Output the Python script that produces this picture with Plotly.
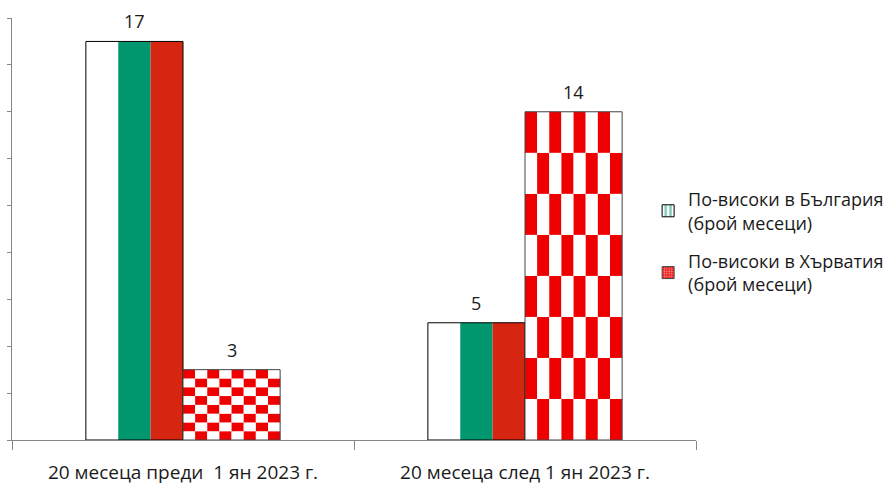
import plotly.graph_objects as go

categories = ["20 месеца преди\u00a0 1 ян 2023 г.", "20 месеца след 1 ян 2023 г."]
bulgaria_higher = [17, 5]
croatia_higher = [3, 14]
series_names = ["По-високи в България<br>(брой месеци)", "По-високи в Хърватия<br>(брой месеци)"]

FLAG = ["#FFFFFF", "#00966E", "#D62612"]
CHECK_RED = "#EE0000"
FONT = "Open Sans"
FS = 18
W = 0.284          # width of one series bar in category units
N = 8              # checkerboard cells per side

fig = go.Figure()

# Bulgarian bars: three vertical stripes
for s, col in enumerate(FLAG):
    fig.add_trace(go.Bar(
        x=categories, y=bulgaria_higher, width=W / 3, offset=-W + s * W / 3,
        marker=dict(color=col, line=dict(width=0)), showlegend=False, hoverinfo="skip"))
fig.add_trace(go.Bar(
    x=categories, y=bulgaria_higher, width=W, offset=-W,
    marker=dict(color="rgba(0,0,0,0)", line=dict(color="#000000", width=1)),
    showlegend=False, name=series_names[0]))

# Croatian bars: 8x8 checkerboard stretched over the bar
for j in range(N):
    xs, ys, bases, cols = [], [], [], []
    for c, v in zip(categories, croatia_higher):
        for k in range(N):
            xs.append(c)
            ys.append(v / N)
            bases.append(k * v / N)
            cols.append(CHECK_RED if (j + k) % 2 == 1 else "#FFFFFF")
    fig.add_trace(go.Bar(
        x=xs, y=ys, base=bases, width=W / N, offset=j * W / N,
        marker=dict(color=cols, line=dict(width=0)), showlegend=False, hoverinfo="skip"))
fig.add_trace(go.Bar(
    x=categories, y=croatia_higher, width=W, offset=0,
    marker=dict(color="rgba(0,0,0,0)", line=dict(color="#444444", width=1)),
    showlegend=False, name=series_names[1]))

# data labels
for i, (b, h) in enumerate(zip(bulgaria_higher, croatia_higher)):
    for xpos, v in ((i - W / 2, b), (i + W / 2, h)):
        fig.add_annotation(x=xpos, y=v, text=str(v), showarrow=False,
                           xanchor="center", yanchor="bottom", yshift=6,
                           font=dict(family=FONT, size=FS, color="#1a1a1a"))

# legend entries
fig.add_trace(go.Bar(
    x=[categories[0]], y=[None], name=series_names[0], legendgroup="bg",
    marker=dict(color="#FFFFFF", line=dict(color="#000000", width=1),
                pattern=dict(shape="|", fgcolor="#00966E", bgcolor="#FFFFFF", size=6, solidity=0.5))))
fig.add_trace(go.Bar(
    x=[categories[0]], y=[None], name=series_names[1], legendgroup="hr",
    marker=dict(color=CHECK_RED, line=dict(color="#444444", width=1),
                pattern=dict(shape=".", fgcolor="#FFFFFF", bgcolor=CHECK_RED, size=3, solidity=0.5))))

fig.update_layout(
    width=894, height=486,
    margin=dict(l=12, r=198, t=18, b=46, autoexpand=False),
    paper_bgcolor="white", plot_bgcolor="white",
    barmode="overlay",
    font=dict(family=FONT, size=FS, color="#1a1a1a"),
    legend=dict(x=0.93, y=0.614, xanchor="left", yanchor="top",
                font=dict(family=FONT, size=FS), tracegroupgap=12,
                itemwidth=30, bgcolor="rgba(0,0,0,0)"),
    xaxis=dict(showline=True, linecolor="#878787", linewidth=1, automargin=False,
               ticks="outside", tickson="boundaries", ticklen=9, tickcolor="#878787",
               ticklabelstandoff=15, showgrid=False,
               tickfont=dict(family=FONT, size=19, color="#1a1a1a")),
    yaxis=dict(range=[0, 18], dtick=2, showline=True, linecolor="#878787", linewidth=1,
               automargin=False,
               ticks="outside", ticklen=4, tickcolor="#878787", showticklabels=False,
               showgrid=False, zeroline=False),
)

fig.write_html("out.html", config={"displayModeBar": False},
               post_script="document.body.style.margin='0px';document.body.style.overflow='hidden';")
